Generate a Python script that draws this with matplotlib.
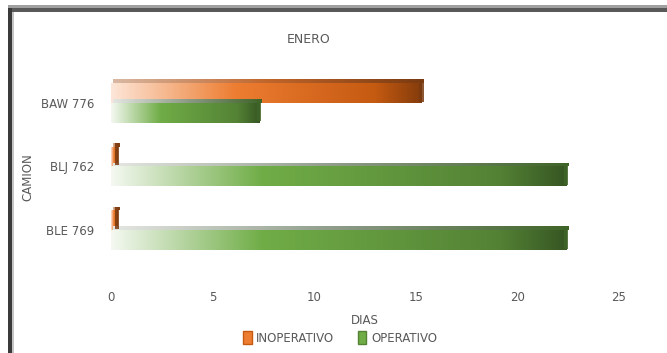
import matplotlib
matplotlib.use("Agg")

import matplotlib.pyplot as plt
import numpy as np
from matplotlib.colors import LinearSegmentedColormap
from matplotlib.patches import Patch, Rectangle

# data (days in January)
camiones = ["BLE 769", "BLJ 762", "BAW 776"]
inoperativo = [0.3, 0.3, 15.3]
operativo = [22.4, 22.4, 7.3]
x_ticks = [0, 5, 10, 15, 20, 25]

TEXT = "#595959"
FS = 8.5
plt.rcParams["font.family"] = ["DejaVu Sans"]
plt.rcParams["font.size"] = FS

orange_cmap = LinearSegmentedColormap.from_list(
    "orange", [(0, "#fde6d8"), (0.4, "#ed7d31"), (0.85, "#c55a11"), (1, "#843c0c")]
)
green_cmap = LinearSegmentedColormap.from_list(
    "green", [(0, "#f4f8f1"), (0.33, "#70ad47"), (0.85, "#548235"), (1, "#375623")]
)
top_orange = LinearSegmentedColormap.from_list("to", ["#d9b8a3", "#c0652a", "#7a3a10"])
top_green = LinearSegmentedColormap.from_list("tg", ["#e4e6e2", "#8c9a86", "#3f6428"])

fig = plt.figure(figsize=(6.67, 3.53), dpi=100)
ax = fig.add_axes([0.1664, 0.258, 0.7616, 0.541])

y = np.arange(len(camiones))
h = 0.31
bars_in = ax.barh(y + h / 2, inoperativo, height=h, color="none", label="INOPERATIVO")
bars_op = ax.barh(y - h / 2, operativo, height=h, color="none", label="OPERATIVO")

grad = np.linspace(0, 1, 256).reshape(1, -1)
for bars, cmap, top_cmap in [(bars_in, orange_cmap, top_orange), (bars_op, green_cmap, top_green)]:
    for rect in bars:
        x0, y0 = rect.get_x(), rect.get_y()
        w, hh = rect.get_width(), rect.get_height()
        # top face of the bar (fake 3D look)
        top = Rectangle((x0 + 0.08, y0 + hh), w, 0.06, transform=ax.transData)
        im_top = ax.imshow(grad, cmap=top_cmap, aspect="auto",
                           extent=(x0 + 0.08, x0 + 0.08 + w, y0 + hh, y0 + hh + 0.06),
                           zorder=2)
        im_top.set_clip_path(top)
        im = ax.imshow(grad, cmap=cmap, aspect="auto",
                       extent=(x0, x0 + w, y0, y0 + hh), zorder=2)
        im.set_clip_path(rect)
        # dark end cap
        cap = min(0.2, w * 0.6)
        ax.add_patch(Rectangle((x0 + w - cap * 0.6, y0 + 0.02), cap, hh + 0.035,
                               facecolor=top_cmap(1.0), edgecolor="none", alpha=0.85, zorder=3))

ax.set_xlim(0, 25)
ax.set_ylim(-0.5, 2.5)
ax.set_xticks(x_ticks)
ax.set_yticks(y)
ax.set_yticklabels(camiones)
ax.tick_params(axis="both", length=0, colors=TEXT, labelsize=FS)
ax.tick_params(axis="x", pad=21)
ax.tick_params(axis="y", pad=12)
for s in ax.spines.values():
    s.set_visible(False)

ax.set_xlabel("DIAS", color=TEXT, fontsize=FS, labelpad=7)
fig.text(0.042, 0.497, "CAMION", rotation=90, ha="center", va="center", color=TEXT, fontsize=FS)
fig.text(0.462, 0.888, "ENERO", ha="center", va="center", color=TEXT, fontsize=9)

handles = [Patch(facecolor="#ed7d31", edgecolor="#c55a11"),
           Patch(facecolor="#70ad47", edgecolor="#548235")]
fig.legend(handles, ["INOPERATIVO", "OPERATIVO"], loc="center", bbox_to_anchor=(0.51, 0.043),
           ncol=2, frameon=False, fontsize=FS, labelcolor=TEXT,
           handlelength=0.7, handleheight=1.3, handletextpad=0.4, columnspacing=2.0)

# chart frame (only the top and left edges show in the crop)
fig.patches.append(Rectangle((8 / 667, 1 - 8 / 353), 1, 3 / 353, transform=fig.transFigure,
                             facecolor="#a0a0a0", edgecolor="none"))
fig.patches.append(Rectangle((8 / 667, 1 - 12 / 353), 1, 4 / 353, transform=fig.transFigure,
                             facecolor="#595959", edgecolor="none"))
fig.patches.append(Rectangle((8 / 667, 0), 3.5 / 667, 1 - 8 / 353, transform=fig.transFigure,
                             facecolor="#3a3a3a", edgecolor="none"))
fig.patches.append(Rectangle((11.5 / 667, 0), 2.5 / 667, 1 - 12 / 353, transform=fig.transFigure,
                             facecolor="#c4c4c4", edgecolor="none"))

fig.savefig("out.png", dpi=100)
